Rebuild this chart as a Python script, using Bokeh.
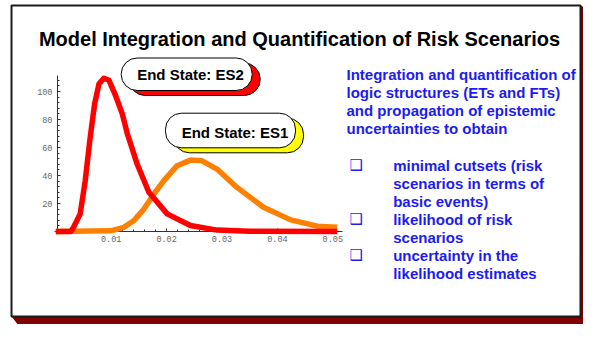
from bokeh.plotting import figure
from bokeh.models import Range1d, LinearAxis, FixedTicker
from bokeh.core.properties import value
from bokeh.embed import file_html
from bokeh.resources import INLINE

# ---------------- data ----------------
title_text = "Model Integration and Quantification of Risk Scenarios"

es2_x = [0.0, 0.0027, 0.0032, 0.0044, 0.0053, 0.0062, 0.0070, 0.0078, 0.0087, 0.0096,
         0.0108, 0.0120, 0.0129, 0.0147, 0.0168, 0.0201, 0.0243, 0.0291, 0.0350, 0.0508]
es2_y = [0, 0, 3, 12.6, 36, 67, 91, 105.5, 109.5, 108, 97, 84, 70, 48, 28, 12.6, 4.3, 1.0, 0.2, 0]

es1_x = [0.0, 0.0099, 0.0123, 0.0141, 0.0159, 0.0177, 0.0195, 0.0219, 0.0243, 0.0264,
         0.0291, 0.0327, 0.0375, 0.0424, 0.0472, 0.0508]
es1_y = [0, 0.5, 3, 7.8, 16, 26.8, 36.3, 47, 51, 50.5, 44.6, 31.5, 17.3, 8.3, 3.8, 3.0]

x_ticks = [0.01, 0.02, 0.03, 0.04, 0.05]
x_minor = [0.002, 0.004, 0.006, 0.008, 0.012, 0.014, 0.016, 0.018, 0.022, 0.024, 0.026,
           0.028, 0.032, 0.034, 0.036, 0.038, 0.042, 0.044, 0.046, 0.048, 0.05]
y_ticks = [20, 40, 60, 80, 100]
y_minor = [4, 8, 12, 16, 24, 28, 32, 36, 44, 48, 52, 56, 64, 68, 72, 76, 84, 88, 92, 96, 104, 108]

callout_labels = ["End State: ES2", "End State: ES1"]
callout_colors = ["#ff0000", "#ffff00"]

intro_lines = ["Integration and quantification of",
               "logic structures (ETs and FTs)",
               "and propagation of epistemic",
               "uncertainties to obtain"]
bullet_items = [["minimal cutsets (risk", "scenarios in terms of", "basic events)"],
                ["likelihood of risk", "scenarios"],
                ["uncertainty in the", "likelihood estimates"]]

# ---------------- layout (pixel coordinates of the picture) ----------------
W, H = 583, 324
TS = 6.5  # baseline correction for text


def Y(py):
    return H - py


BLUE = "#1c1cf0"
FONT = value("Liberation Sans")

p = figure(width=W, height=H, x_range=Range1d(0, W), y_range=Range1d(0, H),
           output_backend="svg", toolbar_location=None, min_border=0,
           x_axis_type=None, y_axis_type=None)
p.outline_line_color = None
p.background_fill_color = "white"
p.border_fill_color = "white"

# chart scales: px = 55.3 + 5540*v ; py = 231 - 1.40*v
p.extra_x_ranges = {"cx": Range1d((0 - 55.3) / 5540, (W - 55.3) / 5540)}
p.extra_y_ranges = {"cy": Range1d((231 - H) / 1.40, 231 / 1.40)}

# slide shadow and box
BL, BT, BR, BB = 11, 5, 580, 316
p.patch(x=[BR, BR + 14, BR + 14, BL + 11, BL, BR],
        y=[Y(BT), Y(BT + 7), Y(BB + 14), Y(BB + 14), Y(BB), Y(BB)],
        fill_color="#800000", line_color=None)
p.quad(left=BL, right=BR, top=Y(BT), bottom=Y(BB), fill_color="white",
       line_color="#1a1a1a", line_width=2)

# title
p.text(x=[299], y=[Y(45 - TS)], text=[title_text], text_align="center",
       text_baseline="alphabetic", text_font=FONT, text_font_style="bold",
       text_font_size="20px", text_color="black")

# curves
p.line(es1_x, es1_y, x_range_name="cx", y_range_name="cy", line_color="#ff8000",
       line_width=5.5, line_join="round", level="annotation")
p.line(es2_x, es2_y, x_range_name="cx", y_range_name="cy", line_color="#ff0000",
       line_width=5.5, line_join="round", level="annotation")


# axes
def style_axis(ax):
    ax.axis_line_color = "#333333"
    ax.axis_line_width = 1
    ax.major_tick_in = 3
    ax.major_tick_out = 0
    ax.minor_tick_in = 2
    ax.minor_tick_out = 0
    ax.major_tick_line_color = "#333333"
    ax.minor_tick_line_color = "#333333"
    ax.major_label_text_font = "Liberation Mono"
    ax.major_label_text_font_size = "8.5px"
    ax.major_label_text_color = "#666666"


xaxis = LinearAxis(x_range_name="cx", y_range_name="cy", fixed_location=0,
                   bounds=(-0.0003, 0.0517),
                   ticker=FixedTicker(ticks=x_ticks, minor_ticks=x_minor))
style_axis(xaxis)
xaxis.major_label_standoff = 4
p.add_layout(xaxis, "below")

yaxis = LinearAxis(x_range_name="cx", y_range_name="cy", fixed_location=0.0003,
                   bounds=(-1, 111.5),
                   ticker=FixedTicker(ticks=y_ticks, minor_ticks=y_minor))
style_axis(yaxis)
yaxis.major_label_standoff = 5
p.add_layout(yaxis, "left")

# callouts
pill_left = [120.7, 165.0]
pill_right = [251.7, 295.0]
pill_top = [57.5, 112.7]
pill_bottom = [90.0, 147.3]
text_cx = [190.0, 234.5]
text_base = [80.0, 138.0]
for i, lab in enumerate(callout_labels):
    p.quad(left=pill_left[i] + 8, right=pill_right[i] + 8, top=Y(pill_top[i] + 5),
           bottom=Y(pill_bottom[i] + 5), fill_color=callout_colors[i], line_color="black",
           line_width=1, border_radius=16, level="overlay")
    p.quad(left=pill_left[i], right=pill_right[i], top=Y(pill_top[i]), bottom=Y(pill_bottom[i]),
           fill_color="white", line_color="black", line_width=1, border_radius=16,
           level="overlay")
    p.text(x=[text_cx[i]], y=[Y(text_base[i] - TS)], text=[lab], text_align="center",
           text_baseline="alphabetic", text_font=FONT, text_font_style="bold",
           text_font_size="15px", text_color="black", level="overlay")

# right-hand text
for i, line in enumerate(intro_lines):
    p.text(x=[346], y=[Y(80 + 18.3 * i - TS)], text=[line], text_align="left",
           text_baseline="alphabetic", text_font=FONT, text_font_style="bold",
           text_font_size="15px", text_color=BLUE)

row = 0
for item in bullet_items:
    p.text(x=[349], y=[Y(171 + 18 * row - TS)], text=["\u2751"], text_align="left",
           text_baseline="alphabetic", text_font=value("DejaVu Sans"),
           text_font_size="15px", text_color=BLUE)
    for line in item:
        p.text(x=[392.7], y=[Y(171 + 18 * row - TS)], text=[line], text_align="left",
               text_baseline="alphabetic", text_font=FONT, text_font_style="bold",
               text_font_size="15px", text_color=BLUE)
        row += 1

open("out.html", "w").write(file_html(p, INLINE))
